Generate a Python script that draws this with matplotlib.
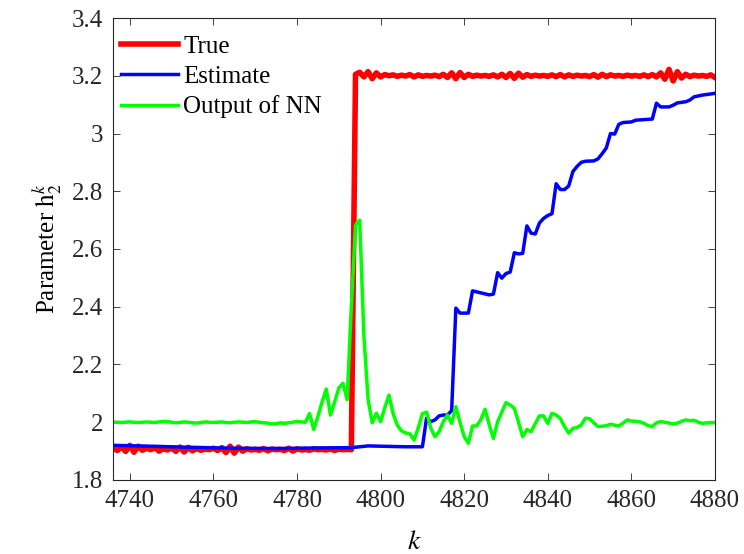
import matplotlib
matplotlib.use('Agg')
import matplotlib.pyplot as plt
import numpy as np
from matplotlib.ticker import FormatStrFormatter

# sample index
k_start, k_end = 4736, 4880
k = np.arange(k_start, k_end + 1)

# true parameter, before the switch (k = 4736..4793)
true_before = [
    1.912, 1.902, 1.915, 1.899, 1.920, 1.896, 1.917, 1.903, 1.910, 1.905,
    1.912, 1.900, 1.908, 1.904, 1.911, 1.899, 1.914, 1.897, 1.913, 1.901,
    1.909, 1.903, 1.907, 1.905, 1.910, 1.902, 1.912, 1.895, 1.917, 1.893,
    1.914, 1.900, 1.908, 1.904, 1.906, 1.903, 1.909, 1.901, 1.907, 1.905,
    1.906, 1.902, 1.910, 1.900, 1.908, 1.904, 1.906, 1.903, 1.908, 1.905,
    1.906, 1.904, 1.908, 1.902, 1.907, 1.905, 1.906, 1.905,
]
# true parameter, after the switch (k = 4794..4880)
true_after = [
    3.205, 3.212, 3.196, 3.214, 3.190, 3.210, 3.196, 3.204, 3.200, 3.203,
    3.198, 3.202, 3.199, 3.204, 3.196, 3.203, 3.198, 3.201, 3.199, 3.202,
    3.197, 3.205, 3.194, 3.210, 3.190, 3.211, 3.194, 3.205, 3.198, 3.202,
    3.199, 3.201, 3.198, 3.203, 3.196, 3.205, 3.194, 3.208, 3.191, 3.209,
    3.195, 3.204, 3.198, 3.202, 3.199, 3.201, 3.198, 3.203, 3.197, 3.204,
    3.196, 3.203, 3.198, 3.202, 3.199, 3.201, 3.197, 3.204, 3.195, 3.205,
    3.197, 3.203, 3.199, 3.201, 3.198, 3.202, 3.199, 3.201, 3.198, 3.203,
    3.197, 3.204, 3.196, 3.210, 3.188, 3.222, 3.182, 3.214, 3.192, 3.205,
    3.197, 3.202, 3.199, 3.201, 3.198, 3.203, 3.194,
]
true_vals = np.array(true_before + true_after)

# estimate (breakpoints)
est_k = [4736, 4745, 4755, 4765, 4775, 4785, 4793, 4797, 4800, 4806, 4810,
         4811, 4812, 4813, 4814, 4815, 4816, 4817, 4818, 4819, 4821, 4822,
         4826, 4827, 4828, 4829, 4830, 4831, 4832, 4833, 4834, 4835, 4836,
         4837, 4838, 4839, 4840, 4841, 4842, 4843, 4844, 4845, 4846, 4847,
         4848, 4849, 4851, 4852, 4853, 4854, 4855, 4856, 4857, 4858, 4860,
         4861, 4862, 4865, 4866, 4867, 4869, 4870, 4871, 4873, 4874, 4875,
         4877, 4880]
est_vals = [1.920, 1.917, 1.913, 1.910, 1.909, 1.911, 1.912, 1.918, 1.917, 1.915, 1.915,
            2.014, 2.002, 2.008, 2.022, 2.025, 2.025, 2.040, 2.395, 2.378, 2.378, 2.455,
            2.441, 2.444, 2.518, 2.499, 2.515, 2.520, 2.587, 2.583, 2.585, 2.680, 2.655,
            2.652, 2.690, 2.706, 2.716, 2.722, 2.826, 2.806, 2.806, 2.818, 2.868, 2.886,
            2.900, 2.904, 2.905, 2.912, 2.930, 2.950, 3.000, 2.998, 3.032, 3.038, 3.040,
            3.046, 3.047, 3.050, 3.105, 3.092, 3.092, 3.098, 3.106, 3.110, 3.116, 3.127,
            3.133, 3.139]

# output of the neural network (k = 4736..4880)
nn_vals = [
    2.000, 2.000, 1.999, 2.000, 2.001, 2.000, 1.999, 2.000, 2.001, 2.000,
    1.999, 2.001, 2.003, 2.002, 2.000, 1.998, 1.999, 2.001, 2.000, 1.998,
    1.997, 1.999, 2.001, 2.000, 1.999, 2.000, 2.001, 1.999, 1.998, 2.000,
    2.001, 2.000, 1.999, 2.001, 2.002, 2.000, 1.998, 1.997, 1.994, 1.995,
    1.998, 1.996, 1.998, 2.000, 2.003, 2.001, 2.000, 2.030, 1.975, 2.020,
    2.070, 2.115, 2.025, 2.070, 2.118, 2.135, 2.078, 2.400, 2.683, 2.700,
    2.300, 2.080, 1.998, 2.031, 2.002, 2.050, 2.094, 2.030, 1.990, 1.970,
    1.963, 1.960, 1.938, 1.980, 2.030, 2.035, 1.980, 1.950, 1.967, 2.002,
    2.025, 1.996, 2.054, 2.000, 1.950, 1.927, 1.987, 1.987, 2.010, 2.045,
    1.990, 1.944, 2.002, 2.035, 2.068, 2.060, 2.048, 2.000, 1.950, 1.975,
    1.967, 1.995, 2.022, 2.022, 1.996, 2.031, 2.025, 2.013, 1.985, 1.962,
    1.979, 1.982, 1.990, 2.014, 2.012, 1.998, 1.985, 1.986, 1.988, 1.993,
    1.990, 1.987, 1.997, 2.008, 2.004, 2.003, 2.002, 1.996, 1.988, 1.985,
    1.998, 2.002, 2.000, 1.997, 1.994, 1.997, 2.003, 2.008, 2.005, 2.007,
    2.000, 1.996, 1.998, 1.999, 1.998,
]

xticks = [4740, 4760, 4780, 4800, 4820, 4840, 4860, 4880]
yticks = [1.8, 2.0, 2.2, 2.4, 2.6, 2.8, 3.0, 3.2, 3.4]

plt.rcParams['font.family'] = ['Liberation Serif', 'DejaVu Serif']
plt.rcParams['mathtext.fontset'] = 'stix'
plt.rcParams['font.size'] = 18

fig = plt.figure(figsize=(7.44, 5.54), dpi=100)
ax = fig.add_axes([0.152, 0.1336, 0.809, 0.8339])

ax.plot(k, true_vals, color='#ff0000', lw=4, label='True')
ax.plot(est_k, est_vals, color='#0000ff', lw=2.5, label='Estimate')
ax.plot(k, nn_vals, color='#00ff00', lw=2.5, label='Output of NN')

ax.set_xlim(k_start, k_end)
ax.set_ylim(1.8, 3.4)
ax.set_xticks(xticks)
ax.set_yticks(yticks)
ax.yaxis.set_major_formatter(FormatStrFormatter('%g'))

ax.tick_params(direction='in', top=True, right=True, length=5, width=0.6,
               color='#262626', labelsize=18, labelcolor='#262626', pad=7)
for s in ax.spines.values():
    s.set_linewidth(0.8)
    s.set_color('#262626')

ax.set_xlabel('$k$', fontsize=20, labelpad=13)
ax.set_ylabel(r'Parameter $\mathrm{h}_2^k$', fontsize=18, labelpad=6)

ax.legend(loc='upper left', bbox_to_anchor=(-0.016, 1.0), frameon=False,
          fontsize=18, handlelength=2.3, handletextpad=0.2, labelspacing=0.3,
          borderaxespad=0.5, borderpad=0.2)

fig.savefig('out.png', dpi=100)
